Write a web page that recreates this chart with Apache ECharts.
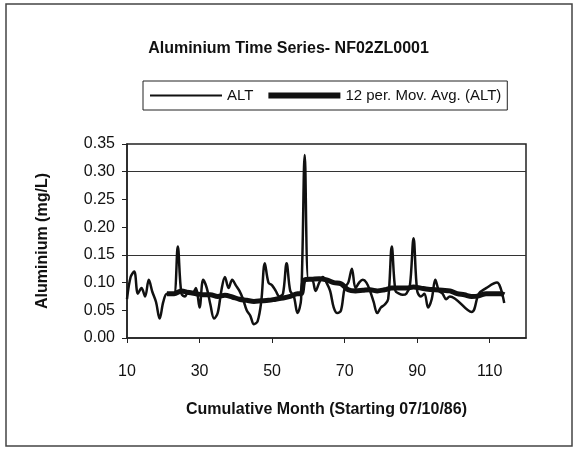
<!DOCTYPE html>
<html>
<head>
<meta charset="UTF-8">
<title>Aluminium Time Series</title>
<script src="https://cdn.jsdelivr.net/npm/echarts@6/dist/echarts.min.js"></script>
<style>
  html, body { margin: 0; padding: 0; background: #fff; }
  #chart1 { width: 577px; height: 453px; }
</style>
</head>
<body>
<div id="chart1"></div>
<script type="text/javascript">
var altMonths = [10, 11, 12, 13, 14, 15, 16, 17, 18, 19, 20, 21, 22, 23, 24, 25, 26, 27, 28, 29,
  30, 31, 32, 33, 34, 35, 36, 37, 38, 39, 40, 41, 42, 43, 44, 45, 46, 47, 48, 49,
  50, 51, 52, 53, 54, 55, 56, 57, 58, 59, 60, 61, 62, 63, 64, 65, 66, 67, 68, 69,
  70, 71, 72, 73, 74, 75, 76, 77, 78, 79, 80, 81, 82, 83, 84, 85, 86, 87, 88, 89,
  90, 91, 92, 93, 94, 95, 96, 97, 98, 99, 105, 107, 109, 112, 113, 114];
var altValues = [0.07, 0.11, 0.12, 0.08, 0.09, 0.075, 0.105, 0.083, 0.065, 0.035, 0.065, 0.08, 0.08, 0.08, 0.165, 0.08, 0.075, 0.085, 0.08, 0.09,
  0.055, 0.105, 0.09, 0.06, 0.035, 0.045, 0.085, 0.11, 0.09, 0.105, 0.095, 0.085, 0.07, 0.05, 0.04, 0.025, 0.03, 0.065, 0.135, 0.1,
  0.095, 0.085, 0.075, 0.08, 0.135, 0.085, 0.075, 0.045, 0.07, 0.33, 0.105, 0.105, 0.085, 0.1, 0.11, 0.1, 0.085, 0.055, 0.045, 0.05,
  0.09, 0.1, 0.125, 0.09, 0.1, 0.105, 0.1, 0.085, 0.065, 0.045, 0.055, 0.06, 0.07, 0.165, 0.085, 0.08, 0.078, 0.08, 0.095, 0.18,
  0.085, 0.075, 0.08, 0.055, 0.07, 0.105, 0.085, 0.08, 0.07, 0.075, 0.047, 0.08, 0.09, 0.1, 0.09, 0.063];

// 12 per. moving average
var avgMonths = [21, 23, 25, 27, 29, 31, 33, 35, 37, 39, 41, 43, 45, 47, 49, 51, 53, 55, 57, 58,
  59, 61, 63, 65, 67, 69, 71, 73, 75, 77, 79, 81, 83, 85, 87, 89, 91, 93, 95, 97,
  99, 101, 103, 105, 107, 109, 111, 113, 114];
var avgValues = [0.08, 0.08, 0.085, 0.082, 0.08, 0.078, 0.078, 0.075, 0.077, 0.074, 0.07, 0.068, 0.066, 0.067, 0.068, 0.07, 0.072, 0.075, 0.08, 0.08,
  0.105, 0.106, 0.107, 0.105, 0.1, 0.098, 0.087, 0.085, 0.086, 0.087, 0.085, 0.087, 0.09, 0.09, 0.09, 0.092, 0.09, 0.088, 0.087, 0.086,
  0.085, 0.08, 0.078, 0.075, 0.076, 0.08, 0.08, 0.08, 0.078];

var seriesNames = ['ALT', '12 per. Mov. Avg. (ALT)'];

function pairs(xs, ys) {
  var out = [];
  for (var i = 0; i < xs.length; i++) out.push([xs[i], ys[i]]);
  return out;
}

var chart1 = echarts.init(document.getElementById('chart1'));
var font = 'Liberation Sans, Arial, sans-serif';
var option = {
  backgroundColor: '#fff',
  animation: false,
  title: {
    text: 'Aluminium Time Series- NF02ZL0001',
    left: 'center',
    top: 36,
    textStyle: { fontFamily: font, fontSize: 16, fontWeight: 'bold', color: '#111' }
  },
  legend: {
    data: [
      { name: seriesNames[0], lineStyle: { width: 2, color: '#111' } },
      { name: seriesNames[1], lineStyle: { width: 6, color: '#111' } }
    ],
    left: 143,
    top: 81,
    padding: [7, 6],
    itemGap: 12,
    itemWidth: 72,
    itemHeight: 14,
    borderColor: '#222',
    borderWidth: 1,
    itemStyle: { opacity: 0 },   // line only, no marker
    textStyle: { fontFamily: font, fontSize: 15, color: '#111' }
  },
  graphic: [{
    type: 'rect',
    shape: { x: 6, y: 4, width: 566, height: 442 },
    style: { fill: 'none', stroke: '#444', lineWidth: 1.5 },
    silent: true
  }],
  grid: {
    left: 127, right: 51, top: 144, bottom: 115,
    show: true, borderColor: '#222', borderWidth: 1.5
  },
  xAxis: {
    type: 'value',
    min: 10, max: 120, interval: 20,
    name: 'Cumulative Month (Starting 07/10/86)',
    nameLocation: 'middle',
    nameGap: 64,
    nameTextStyle: { fontFamily: font, fontSize: 16, fontWeight: 'bold', color: '#111' },
    axisLine: { onZero: false, lineStyle: { color: '#222', width: 1.5 } },
    axisTick: { length: 5, lineStyle: { color: '#222' } },
    axisLabel: { showMaxLabel: false, margin: 26, fontFamily: font, fontSize: 16, color: '#111' },
    splitLine: { show: false }
  },
  yAxis: {
    type: 'value',
    min: 0, max: 0.35, interval: 0.05,
    name: 'Aluminium (mg/L)',
    nameLocation: 'middle',
    nameGap: 76,
    nameTextStyle: { fontFamily: font, fontSize: 16, fontWeight: 'bold', color: '#111' },
    axisLine: { lineStyle: { color: '#222', width: 1.5 } },
    axisTick: { length: 5, lineStyle: { color: '#222' } },
    axisLabel: {
      margin: 12, fontFamily: font, fontSize: 16, color: '#111',
      formatter: function (v) { return v.toFixed(2); }
    },
    splitLine: {
      show: true,
      // only the 0.15 and 0.30 gridlines survive in the scan
      lineStyle: { color: ['transparent', 'transparent', 'transparent', '#333', 'transparent', 'transparent', '#333', 'transparent'], width: 1.2 }
    }
  },
  series: [{
    name: seriesNames[0],
    type: 'line',
    data: pairs(altMonths, altValues),
    symbol: 'none',
    smooth: 0.35,
    lineStyle: { color: '#111', width: 2.5 },
    itemStyle: { color: '#111' }
  }, {
    name: seriesNames[1],
    type: 'line',
    data: pairs(avgMonths, avgValues),
    symbol: 'none',
    smooth: 0.35,
    lineStyle: { color: '#111', width: 5 },
    itemStyle: { color: '#111' }
  }]
};
chart1.setOption(option);
</script>
</body>
</html>
